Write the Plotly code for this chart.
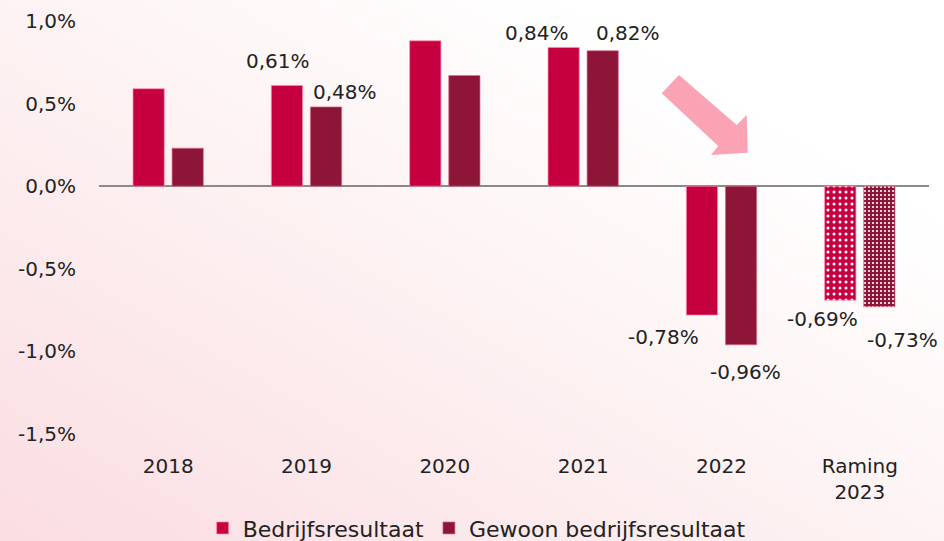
import base64
import plotly.graph_objects as go

categories = ["2018", "2019", "2020", "2021", "2022", "Raming<br>2023"]
bedrijfsresultaat = [0.59, 0.61, 0.88, 0.84, -0.78, -0.69]
gewoon_bedrijfsresultaat = [0.23, 0.48, 0.67, 0.82, -0.96, -0.73]
tick_vals = [1.0, 0.5, 0.0, -0.5, -1.0, -1.5]
tick_text = ["1,0%", "0,5%", "0,0%", "-0,5%", "-1,0%", "-1,5%"]
patterns = ["", "", "", "", "", "."]

# labels shown (index, x shift px, y shift px)
label_b = [(1, -29, 24), (3, -46, 14), (4, -58, -22), (5, -37, -19)]
label_g = [(1, 38, 15), (3, 45, 18), (4, 24, -27), (5, 43, -33)]

C_B = "#C6003F"
C_G = "#8C1538"
FONT = "DejaVu Sans"
FS = 20
W, H = 944, 541
ML, MR, MT, MB = 99, 15, 21, 107
PW, PH = W - ML - MR, H - MT - MB

fig = go.Figure()
fig.add_bar(
    x=categories, y=bedrijfsresultaat, name="Bedrijfsresultaat",
    marker=dict(color=C_B, line=dict(color="rgba(255,140,170,0.7)", width=1),
                pattern=dict(shape=patterns, fgcolor="white", bgcolor=C_B,
                             size=6, solidity=0.2, fillmode="replace")),
)
fig.add_bar(
    x=categories, y=gewoon_bedrijfsresultaat, name="Gewoon bedrijfsresultaat",
    marker=dict(color=C_G, line=dict(color="rgba(220,110,140,0.7)", width=1),
                pattern=dict(shape=patterns, fgcolor="white", bgcolor=C_G,
                             size=4, solidity=0.22, fillmode="replace")),
)

def fmt(v):
    return f"{v:.2f}".replace(".", ",") + "%"

anns = []
for i, dx, dy in label_b:
    anns.append(dict(x=i, y=bedrijfsresultaat[i], text=fmt(bedrijfsresultaat[i]),
                     xshift=dx, yshift=dy, showarrow=False, xanchor="center", yanchor="middle",
                     font=dict(family=FONT, size=FS, color="#222")))
for i, dx, dy in label_g:
    anns.append(dict(x=i, y=gewoon_bedrijfsresultaat[i], text=fmt(gewoon_bedrijfsresultaat[i]),
                     xshift=dx, yshift=dy, showarrow=False, xanchor="center", yanchor="middle",
                     font=dict(family=FONT, size=FS, color="#222")))

# background gradient
svg = (
    '<svg xmlns="http://www.w3.org/2000/svg" width="944" height="541" preserveAspectRatio="none">'
    '<defs><linearGradient id="g" x1="0" y1="1" x2="1" y2="0">'
    '<stop offset="0" stop-color="#FADDE2"/>'
    '<stop offset="0.45" stop-color="#FDF1F2"/>'
    '<stop offset="0.8" stop-color="#FFFFFF"/>'
    '</linearGradient></defs>'
    '<rect width="944" height="541" fill="url(#g)"/></svg>'
)
src = "data:image/svg+xml;base64," + base64.b64encode(svg.encode()).decode()

def px(x, y):
    return (x - ML) / PW, (H - MB - y) / PH

arrow_pts = [(661.7, 93.3), (679, 75), (736.7, 125), (746.7, 115), (747.7, 152.7),
             (711, 155), (718.3, 146)]
path = "M " + " L ".join(f"{px(x, y)[0]:.4f},{px(x, y)[1]:.4f}" for x, y in arrow_pts) + " Z"

fig.update_layout(
    width=W, height=H,
    margin=dict(l=ML, r=MR, t=MT, b=MB, autoexpand=False),
    paper_bgcolor="white", plot_bgcolor="rgba(0,0,0,0)",
    barmode="group", bargap=0.435, bargroupgap=0.2,
    font=dict(family=FONT, size=FS, color="#222"),
    showlegend=True,
    legend=dict(orientation="h", x=0.455, xanchor="center", y=-0.228, yanchor="middle",
                font=dict(family=FONT, size=22, color="#222"), bgcolor="rgba(0,0,0,0)",
                itemwidth=30),
    annotations=anns,
    images=[dict(source=src, xref="paper", yref="paper", x=-ML / PW, y=1 + MT / PH,
                 sizex=W / PW, sizey=H / PH, sizing="stretch", xanchor="left", yanchor="top",
                 layer="below")],
    shapes=[dict(type="path", path=path, xref="paper", yref="paper",
                 fillcolor="#F9A3B5", line=dict(width=0))],
)
fig.update_xaxes(type="category", categoryorder="array", categoryarray=categories,
                 range=[-0.5, len(categories) - 0.5],
                 showgrid=False, showline=False, zeroline=False, ticks="",
                 automargin=False,
                 tickfont=dict(family=FONT, size=FS, color="#222"), ticklabelstandoff=18)
fig.update_yaxes(range=[-1.5, 1.0], tickvals=tick_vals, ticktext=tick_text, automargin=False,
                 showgrid=False, showline=False, zeroline=True, zerolinecolor="#8a8a8a",
                 zerolinewidth=1.5, ticks="", ticklabelstandoff=22,
                 tickfont=dict(family=FONT, size=FS, color="#222"))

fig.write_html("out.html", config={"displayModeBar": False},
               post_script="document.body.style.margin='0';")
